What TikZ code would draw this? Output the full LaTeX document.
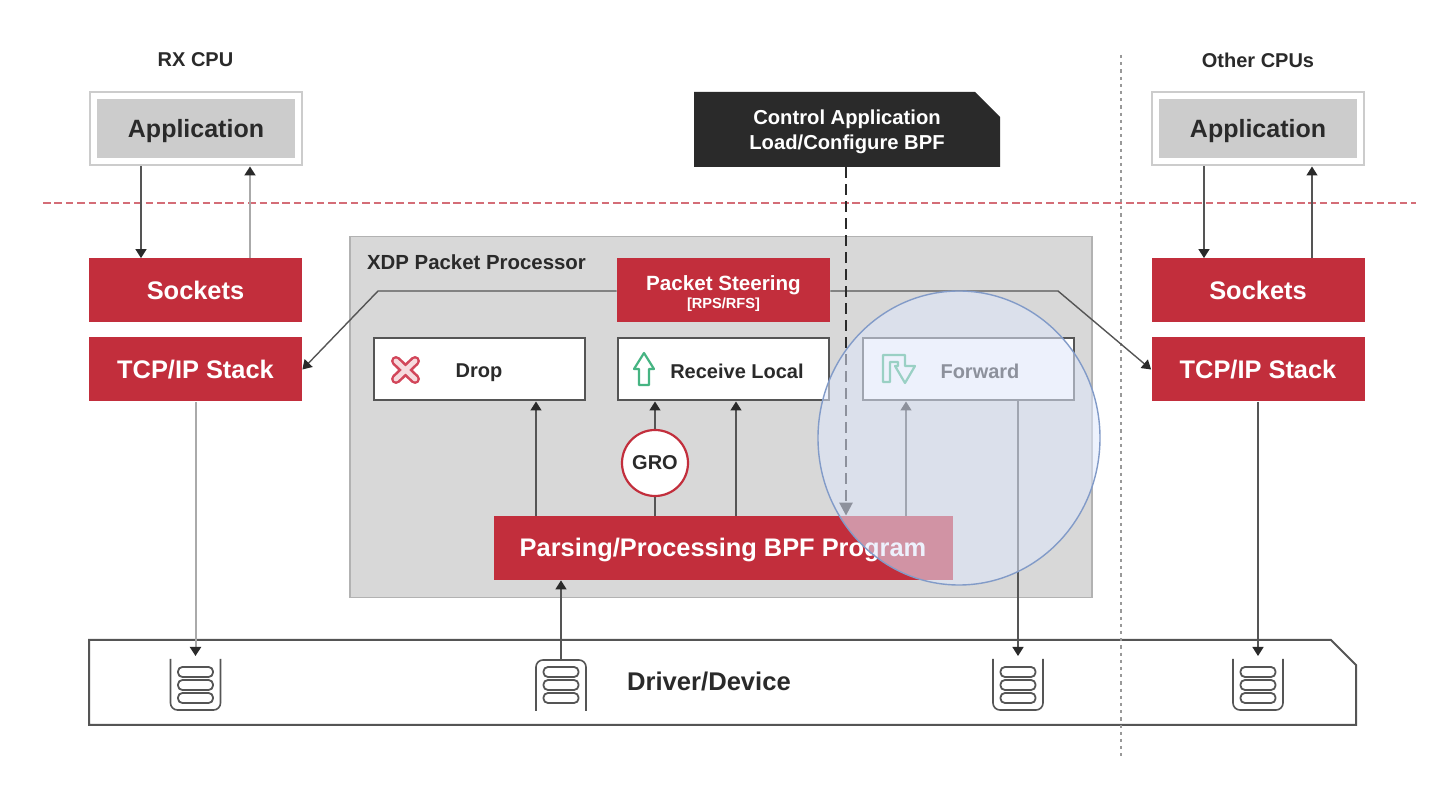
\documentclass[tikz,border=0pt]{standalone}
\usepackage{fontspec}
\setmainfont{Liberation Sans}
\usetikzlibrary{arrows.meta,shapes.geometric}
\definecolor{xdpred}{RGB}{194,46,60}
\definecolor{xdpgrey}{RGB}{216,216,216}
\definecolor{appgrey}{RGB}{204,204,204}
\definecolor{linegrey}{RGB}{85,85,85}
\definecolor{inkdark}{RGB}{42,42,42}
\definecolor{lensblue}{RGB}{223,231,251}
\definecolor{lensedge}{RGB}{130,155,200}
\definecolor{iconred}{RGB}{210,70,90}
\definecolor{icongreen}{RGB}{70,180,130}
\begin{document}
\begin{tikzpicture}[x=.5pt,y=-.5pt,
   every node/.style={font=\bfseries,text=inkdark},
   redbox/.style={fill=xdpred,minimum width=106.5pt,minimum height=32pt,inner sep=0pt,text height=9pt,text depth=0pt,font=\bfseries\fontsize{12.7}{14}\selectfont,text=white},
   actionbox/.style={draw=linegrey,line width=1pt,fill=white,minimum width=105.5pt,minimum height=31pt,inner sep=0pt},
   actiontext/.style={font=\bfseries\fontsize{10}{12}\selectfont},
   appbox/.style={draw=appgrey,line width=1pt,fill=white,minimum width=106pt,minimum height=36.5pt,inner sep=0pt},
   appinner/.style={fill=appgrey,minimum width=99pt,minimum height=29.5pt,inner sep=0pt,text height=9pt,text depth=0pt,font=\bfseries\fontsize{12.5}{14}\selectfont},
   cpulabel/.style={font=\bfseries\fontsize{10}{12}\selectfont},
   flow/.style={draw=linegrey,line width=.7pt,-{Triangle[length=4.5pt,width=5.5pt,color=inkdark]}},
   paleflow/.style={flow,draw=linegrey!50,line width=1pt},
   plain/.style={draw=linegrey,line width=.7pt},
   queue/.style={draw=linegrey,line width=.8pt,rounded corners=3.5pt},
   pill/.style={draw=linegrey,line width=.9pt,fill=white,rounded corners=2.2pt}]

\useasboundingbox (0,0) rectangle (1442,790);

% packet processor
\node[fill=xdpgrey,draw=black!30,line width=.8pt,minimum width=371pt,minimum height=180.5pt,inner sep=0pt] (xdp) at (721,417) {};
\node[anchor=west,font=\bfseries\fontsize{10.2}{12}\selectfont] (xdplabel) at (360,262) {XDP Packet Processor};

% left column
\node[cpulabel] (rxlabel) at (195.5,60) {RX CPU};
\node[appbox] (rxapp) at (195.5,129) {};
\node[appinner] (rxappin) at (196,128.5) {Application};
\node[redbox] (rxsock) at (195.5,290.5) {Sockets};
\node[redbox] (rxstack) at (195.5,369.5) {TCP/IP Stack};

% right column
\node[cpulabel] (otherlabel) at (1258,60) {Other CPUs};
\node[appbox] (otherapp) at (1258,129) {};
\node[appinner] (otherappin) at (1258,128.5) {Application};
\node[redbox] (othersock) at (1258,290.5) {Sockets};
\node[redbox] (otherstack) at (1258,369.5) {TCP/IP Stack};

% control application
\draw[fill=inkdark,draw=none] (694,92) -- (975,92) -- (1000,117) -- (1000,167) -- (694,167) -- cycle;
\node[minimum width=153pt,minimum height=37.5pt,inner sep=0pt] (control) at (847,129.5) {};
\node[align=center,text=white,font=\bfseries\fontsize{10.1}{12.5}\selectfont] (controltext) at (847,131.5) {Control Application\\Load/Configure BPF};

% driver
\draw[draw=linegrey,line width=1pt,fill=white] (89,640) -- (1331,640) -- (1356,665) -- (1356,725) -- (89,725) -- cycle;
\node[font=\bfseries\fontsize{12.8}{14}\selectfont] (driver) at (709,681) {Driver/Device};

% cpu boundaries
\draw[xdpred!70,line width=.9pt,dash pattern=on 3.8pt off 1.9pt] (43,203) -- (1416,203);
\draw[linegrey!60,line width=1.1pt,dash pattern=on 1.6pt off 2pt] (1121,55) -- (1121,756);

% processor contents
\node[redbox,minimum width=106.5pt] (steer) at (723.5,290.5) {};
\node[text=white,font=\bfseries\fontsize{10.3}{12}\selectfont] (steertext) at (723.5,285) {Packet Steering};
\node[text=white,font=\bfseries\fontsize{7.3}{8}\selectfont] (steersub) at (723.5,305) {[RPS/RFS]};
\node[actionbox] (drop) at (479,369.5) {};
\node[actiontext] (droptext) at (479,373) {Drop};
\node[actionbox] (local) at (723.5,369.5) {};
\node[actiontext] (localtext) at (737,371) {Receive Local};
\node[actionbox] (forward) at (968.5,369.5) {};
\node[actiontext] (fwdtext) at (980,371) {Forward};
\node[redbox,minimum width=229.5pt] (bpf) at (723,548) {Parsing/Processing BPF Program};
\node[circle,draw=xdpred,line width=1.1pt,fill=white,minimum size=33pt,inner sep=0pt,font=\bfseries\fontsize{10}{12}\selectfont] (gro) at (655,463) {GRO};

% action icons
\draw[iconred,line width=5pt,line cap=round] (396,361) -- (415,379) (415,361) -- (396,379);
\draw[white!80!iconred,line width=2.4pt,line cap=round] (396,361) -- (415,379) (415,361) -- (396,379);
\draw[icongreen,line width=1.1pt,line join=round] (644,353) -- (654,369) -- (649,369) -- (649,385) -- (639,385) -- (639,369) -- (634,369) -- cycle;
\draw[icongreen,line width=1.1pt,line join=round] (883,382) -- (883,355) -- (905,355) -- (905,366) -- (915,366) -- (905,383) -- (895,366) -- (898,366) -- (898,362) -- (890,362) -- (890,382) -- cycle;

% queues
\foreach \name/\qx/\qopen/\qtop in {txq/195.5/0/656,rxq/561/1/660,fwdq/1018/0/656,otherq/1258/0/656}{
  \begin{scope}[shift={(\qx,685)}]
    \ifnum\qopen=0
      \draw[queue] (-25,-26) -- (-25,25) -- (25,25) -- (25,-26);
    \else
      \draw[queue] (-25,26) -- (-25,-25) -- (25,-25) -- (25,26);
    \fi
    \foreach \qy in {-13,0,13}
      \draw[pill] (-17.5,\qy-5) rectangle (17.5,\qy+5);
  \end{scope}
  \coordinate (\name) at (\qx,\qtop);
}

% connectors
\draw[flow] (rxapp.south -| 141,0) -- (rxsock.north -| 141,0);
\draw[paleflow] (rxsock.north -| 250,0) -- (rxapp.south -| 250,0);
\draw[flow] (otherapp.south -| 1204,0) -- (othersock.north -| 1204,0);
\draw[flow] (othersock.north -| 1312,0) -- (otherapp.south -| 1312,0);
\draw[paleflow] (rxstack.south) -- (txq);
\draw[flow] (otherstack.south) -- (otherq);
\draw[flow] (rxq) -- (bpf.south -| rxq);
\draw[flow] (bpf.north -| 536,0) -- (drop.south -| 536,0);
\draw[flow] (gro.north) -- (local.south -| gro.north);
\draw[plain] (gro.south) -- (bpf.north -| gro.south);
\draw[flow] (bpf.north -| 736,0) -- (local.south -| 736,0);
\draw[flow] (bpf.north -| 906,0) -- (forward.south -| 906,0);
\draw[flow] (forward.south -| 1018,0) -- (fwdq);
\draw[flow] (steer.west |- 0,291) -- (378,291) -- (rxstack.east);
\draw[flow] (steer.east |- 0,291) -- (1058,291) -- (otherstack.west);
\draw[flow,line width=1.3pt,dash pattern=on 5.5pt off 3pt,draw=inkdark,-{Triangle[length=6.5pt,width=6.5pt]}] (control.south -| 846,0) -- (bpf.north -| 846,0);

% lens over the forward path
\node[ellipse,draw=lensedge,line width=.7pt,fill=lensblue,fill opacity=.55,minimum width=141pt,minimum height=147pt,inner sep=0pt] (lens) at (959,438) {};
\end{tikzpicture}
\end{document}
